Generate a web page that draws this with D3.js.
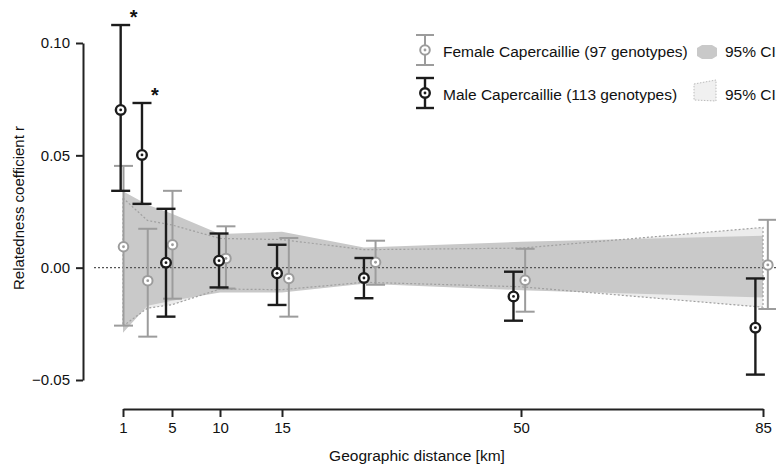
<!DOCTYPE html>
<html>
<head>
<meta charset="utf-8">
<script src="https://cdn.jsdelivr.net/npm/d3@7"></script>
<style>
body { margin: 0; background: #fff; }
svg text { font-family: "Liberation Sans", Arial, Helvetica, sans-serif; fill: #111; }
</style>
</head>
<body>
<svg id="chart" width="776" height="468"></svg>
<script>
// distance classes (km) and relatedness per sex
var maleKm = [0.81, 2.55, 4.51, 9.9, 14.6, 27.0, 48.9, 83.9];
var maleR  = [0.0702, 0.0502, 0.0022, 0.0031, -0.0025, -0.0046, -0.0128, -0.0267];
var maleHi = [0.108, 0.0733, 0.0262, 0.0152, 0.0102, 0.0043, -0.0018, -0.0048];
var maleLo = [0.0342, 0.0284, -0.0218, -0.0088, -0.0166, -0.0136, -0.0236, -0.0476];
var maleSig = [true, true, false, false, false, false, false, false];

var femaleKm = [1.04, 3.02, 5.05, 10.48, 16.0, 28.7, 50.6, 85.7];
var femaleR  = [0.0093, -0.0058, 0.0102, 0.0041, -0.0048, 0.0024, -0.0056, 0.0012];
var femaleHi = [0.0453, 0.0173, 0.0342, 0.0184, 0.0132, 0.012, 0.0084, 0.0213];
var femaleLo = [-0.0258, -0.0307, -0.0138, -0.0093, -0.0218, -0.0076, -0.0196, -0.0184];

// permutation 95% CI envelopes
var bandKm = [1, 3, 5, 10, 15, 27, 50, 85];
var femaleCiHi = [0.034, 0.028, 0.024, 0.015, 0.016, 0.009, 0.0115, 0.0142];
var femaleCiLo = [-0.029, -0.017, -0.0147, -0.011, -0.011, -0.0072, -0.010, -0.0133];
var maleCiHi = [0.031, 0.021, 0.019, 0.013, 0.0125, 0.008, 0.0087, 0.0179];
var maleCiLo = [-0.026, -0.018, -0.0165, -0.0095, -0.0098, -0.0065, -0.0085, -0.0176];

var xTicks = [1, 5, 10, 15, 50, 85];
var yTicks = [-0.05, 0, 0.05, 0.10];

var FEMALE = "#9c9c9c", MALE = "#1c1c1c";

var svg = d3.select("#chart");

// distance axis is stretched piecewise between the class limits
var x = d3.scaleLinear().domain(xTicks).range([123, 172, 220, 282, 521, 763]);
var y = d3.scaleLinear().domain([-0.05, 0.10]).range([380, 43]);

function band(lo, hi) {
  var pts = bandKm.map(function (d, i) { return {km: d, lo: lo[i], hi: hi[i]}; });
  return d3.area().x(function (d) { return x(d.km); })
    .y0(function (d) { return y(d.lo); }).y1(function (d) { return y(d.hi); })(pts);
}
function outline(lo, hi) {
  var top = bandKm.map(function (d, i) { return [x(d), y(hi[i])]; });
  var bot = bandKm.map(function (d, i) { return [x(d), y(lo[i])]; }).reverse();
  return d3.line()(top.concat(bot)) + "Z";
}

svg.append("path").attr("d", band(maleCiLo, maleCiHi)).attr("fill", "#ececec");
svg.append("path").attr("d", band(femaleCiLo, femaleCiHi)).attr("fill", "#c9c9c9");
svg.append("path").attr("d", outline(maleCiLo, maleCiHi))
  .attr("fill", "none").attr("stroke", "#a0a0a0").attr("stroke-width", 1.2).attr("stroke-dasharray", "2,2");

// zero reference
svg.append("line").attr("x1", 94).attr("x2", 776).attr("y1", y(0)).attr("y2", y(0))
  .attr("stroke", "#555").attr("stroke-width", 1.3).attr("stroke-dasharray", "2,2");

function series(km, r, lo, hi, col, w, cls) {
  var rows = km.map(function (d, i) { return {km: d, r: r[i], lo: lo[i], hi: hi[i]}; });
  var g = svg.append("g").attr("class", cls).selectAll("g").data(rows).enter().append("g");
  g.append("line").attr("x1", function (d) { return x(d.km); }).attr("x2", function (d) { return x(d.km); })
    .attr("y1", function (d) { return y(d.hi); }).attr("y2", function (d) { return y(d.lo); })
    .attr("stroke", col).attr("stroke-width", w);
  ["hi", "lo"].forEach(function (k) {
    g.append("line").attr("x1", function (d) { return x(d.km) - 9.5; }).attr("x2", function (d) { return x(d.km) + 9.5; })
      .attr("y1", function (d) { return y(d[k]); }).attr("y2", function (d) { return y(d[k]); })
      .attr("stroke", col).attr("stroke-width", w);
  });
  g.append("circle").attr("cx", function (d) { return x(d.km); }).attr("cy", function (d) { return y(d.r); })
    .attr("r", 4.8).attr("fill", "#fff").attr("stroke", col).attr("stroke-width", w);
  g.append("circle").attr("cx", function (d) { return x(d.km); }).attr("cy", function (d) { return y(d.r); })
    .attr("r", 1.4).attr("fill", col);
}
series(femaleKm, femaleR, femaleLo, femaleHi, FEMALE, 2, "female");
series(maleKm, maleR, maleLo, maleHi, MALE, 2.4, "male");

svg.append("g").selectAll("text").data(maleKm.filter(function (d, i) { return maleSig[i]; })).enter()
  .append("text")
  .attr("x", function (d) { return x(d) + 13; })
  .attr("y", function (d) { return y(maleHi[maleKm.indexOf(d)]) - 1; })
  .attr("text-anchor", "middle").style("font-size", "20px").style("font-weight", "bold").text("*");

// axes
var yAxis = svg.append("g").attr("transform", "translate(83,0)")
  .call(d3.axisLeft(y).tickValues(yTicks).tickFormat(d3.format(".2f")).tickSize(7).tickSizeOuter(0).tickPadding(6));
var xAxis = svg.append("g").attr("transform", "translate(0,409)")
  .call(d3.axisBottom(x).tickValues(xTicks).tickFormat(d3.format("d")).tickSize(8).tickSizeOuter(0).tickPadding(5));
[yAxis, xAxis].forEach(function (a) {
  a.selectAll("path, line").attr("stroke", "#222").attr("stroke-width", 2);
  a.selectAll("text").style("font-size", "15px").attr("fill", "#111");
});

svg.append("text").attr("transform", "translate(24,208) rotate(-90)").attr("text-anchor", "middle")
  .style("font-size", "15px").text("Relatedness coefficient r");
svg.append("text").attr("x", 417).attr("y", 461).attr("text-anchor", "middle")
  .style("font-size", "15.5px").text("Geographic distance [km]");

// legend
var legend = [
  {label: "Female Capercaillie (97 genotypes)", col: FEMALE, w: 2, cy: 50},
  {label: "Male Capercaillie (113 genotypes)", col: MALE, w: 2.4, cy: 93}
];
legend.forEach(function (l, i) {
  var g = svg.append("g");
  g.append("line").attr("x1", 425).attr("x2", 425).attr("y1", l.cy - 15).attr("y2", l.cy + 15).attr("stroke", l.col).attr("stroke-width", l.w);
  [-15, 15].forEach(function (o) {
    g.append("line").attr("x1", 416).attr("x2", 434).attr("y1", l.cy + o).attr("y2", l.cy + o).attr("stroke", l.col).attr("stroke-width", l.w);
  });
  g.append("circle").attr("cx", 425).attr("cy", l.cy).attr("r", 4.8).attr("fill", "#fff").attr("stroke", l.col).attr("stroke-width", l.w);
  g.append("circle").attr("cx", 425).attr("cy", l.cy).attr("r", 1.4).attr("fill", l.col);
  g.append("text").attr("x", 443).attr("y", l.cy + 7).style("font-size", "15.5px").text(l.label);
  g.append("text").attr("x", 725).attr("y", l.cy + 7).style("font-size", "15.5px").text("95% CI");
});
svg.append("path").attr("d", "M697,48 L702,45 L712,45 L717,48 L717,56 L712,59 L702,59 L697,56 Z").attr("fill", "#c9c9c9");
svg.append("path").attr("d", "M694,84 L716,80 L716,101 L694,100 Z").attr("fill", "#f0f0f0")
  .attr("stroke", "#bbb").attr("stroke-width", 1).attr("stroke-dasharray", "1.5,1.5");
</script>
</body>
</html>
